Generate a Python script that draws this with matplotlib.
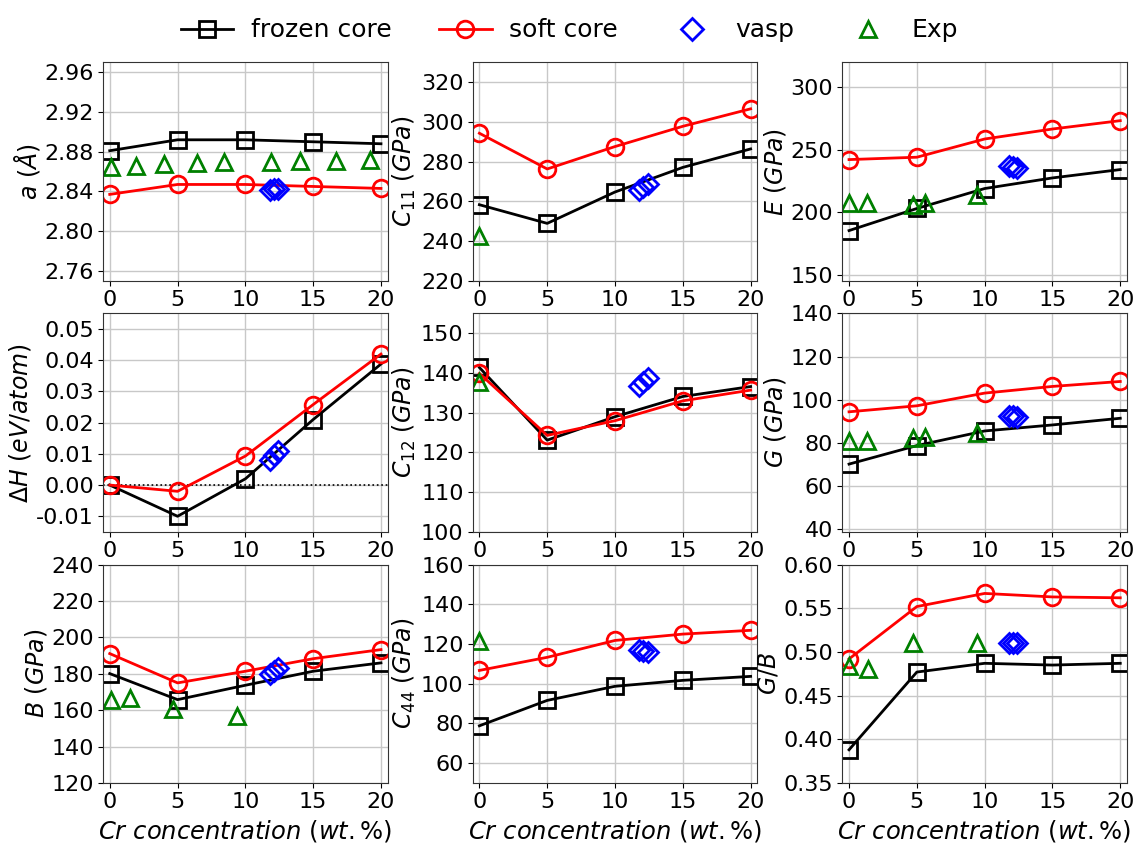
import matplotlib
matplotlib.use("Agg")
import matplotlib.pyplot as plt
from matplotlib.lines import Line2D

# Cr concentration (wt.%)
cr = [0, 5, 10, 15, 20]
vasp_x = [11.8, 12.1, 12.4]

# lattice parameter a
a_frozen = [2.881, 2.892, 2.892, 2.890, 2.888]
a_soft = [2.837, 2.847, 2.847, 2.845, 2.843]
a_vasp = [2.841, 2.842, 2.842]
a_exp_x = [0.1, 1.95, 4.0, 6.45, 8.4, 11.9, 14.0, 16.7, 19.2]
a_exp = [2.865, 2.866, 2.868, 2.869, 2.870, 2.870, 2.871, 2.871, 2.872]

# C11
c11_frozen = [258.3, 248.9, 264.7, 277.1, 286.4]
c11_soft = [294.3, 276.3, 287.6, 297.8, 306.6]
c11_vasp = [265.5, 267.0, 268.5]
c11_exp_x = [0]
c11_exp = [242.7]

# Young's modulus E
e_frozen = [185.2, 202.9, 218.9, 227.4, 234.1]
e_soft = [242.1, 244.0, 258.6, 266.6, 273.3]
e_vasp = [237.0, 236.0, 235.0]
e_exp_x = [0, 1.3, 4.7, 5.6, 9.4]
e_exp = [207.5, 207.5, 206.0, 207.5, 214.0]

# formation enthalpy
dh_frozen = [0.0, -0.010, 0.002, 0.021, 0.0388]
dh_soft = [0.0, -0.002, 0.0093, 0.0258, 0.042]
dh_vasp = [0.008, 0.0095, 0.011]

# C12
c12_frozen = [141.4, 123.1, 129.0, 134.1, 136.6]
c12_soft = [139.9, 124.3, 128.0, 133.0, 135.7]
c12_vasp = [136.8, 137.8, 138.8]
c12_exp_x = [0]
c12_exp = [137.8]

# shear modulus G
g_frozen = [70.0, 78.6, 85.4, 88.2, 91.3]
g_soft = [94.3, 97.1, 103.0, 106.1, 108.4]
g_vasp = [92.5, 92.2, 91.8]
g_exp_x = [0, 1.3, 4.7, 5.6, 9.4]
g_exp = [80.9, 80.9, 82.3, 82.7, 84.3]

# bulk modulus B
b_frozen = [180.1, 165.8, 173.7, 181.4, 186.0]
b_soft = [191.1, 175.0, 181.4, 188.3, 193.3]
b_vasp = [180.0, 181.5, 183.0]
b_exp_x = [0.1, 1.5, 4.7, 9.4]
b_exp = [165.4, 166.7, 160.8, 156.6]

# C44
c44_frozen = [78.8, 91.6, 98.7, 101.7, 103.7]
c44_soft = [106.7, 113.3, 121.8, 125.0, 126.9]
c44_vasp = [117.0, 116.5, 116.0]
c44_exp_x = [0]
c44_exp = [121.7]

# Pugh ratio G/B
gb_frozen = [0.388, 0.477, 0.487, 0.485, 0.487]
gb_soft = [0.492, 0.552, 0.567, 0.563, 0.562]
gb_vasp = [0.510, 0.510, 0.510]
gb_exp_x = [0, 1.4, 4.7, 9.4]
gb_exp = [0.484, 0.480, 0.510, 0.510]

panels = [
    (r"$a\ (\AA)$", a_frozen, a_soft, a_vasp, a_exp_x, a_exp, (2.75, 2.97), [2.76, 2.80, 2.84, 2.88, 2.92, 2.96], "{:.2f}"),
    (r"$C_{11}\ (GPa)$", c11_frozen, c11_soft, c11_vasp, c11_exp_x, c11_exp, (220, 330), [220, 240, 260, 280, 300, 320], "{:.0f}"),
    (r"$E\ (GPa)$", e_frozen, e_soft, e_vasp, e_exp_x, e_exp, (145, 320), [150, 200, 250, 300], "{:.0f}"),
    (r"$\Delta H\ (eV/atom)$", dh_frozen, dh_soft, dh_vasp, [], [], (-0.015, 0.055), [-0.01, 0.0, 0.01, 0.02, 0.03, 0.04, 0.05], "{:.2f}"),
    (r"$C_{12}\ (GPa)$", c12_frozen, c12_soft, c12_vasp, c12_exp_x, c12_exp, (100, 155), [100, 110, 120, 130, 140, 150], "{:.0f}"),
    (r"$G\ (GPa)$", g_frozen, g_soft, g_vasp, g_exp_x, g_exp, (38.5, 140), [40, 60, 80, 100, 120, 140], "{:.0f}"),
    (r"$B\ (GPa)$", b_frozen, b_soft, b_vasp, b_exp_x, b_exp, (120, 240), [120, 140, 160, 180, 200, 220, 240], "{:.0f}"),
    (r"$C_{44}\ (GPa)$", c44_frozen, c44_soft, c44_vasp, c44_exp_x, c44_exp, (50, 160), [60, 80, 100, 120, 140, 160], "{:.0f}"),
    (r"$G/B$", gb_frozen, gb_soft, gb_vasp, gb_exp_x, gb_exp, (0.35, 0.60), [0.35, 0.40, 0.45, 0.50, 0.55, 0.60], "{:.2f}"),
]

fig, axes = plt.subplots(3, 3, figsize=(11.39, 8.43), dpi=100)
plt.subplots_adjust(left=0.0904, right=0.9895, top=0.926, bottom=0.0712,
                    wspace=0.298, hspace=0.15)

for ax, (label, fr, so, va, ex_x, ex, ylim, yticks, fmt) in zip(axes.flat, panels):
    ax.grid(True, color="#c8c8c8", linewidth=1)
    ax.set_axisbelow(True)
    for sp in ax.spines.values():
        sp.set_color("#333333")
    if label.startswith(r"$\Delta"):
        ax.axhline(0, color="black", linestyle=":", linewidth=1.2)
    ax.plot(cr, fr, "-s", color="black", mfc="none", ms=11, mew=2, lw=2)
    ax.plot(cr, so, "-o", color="red", mfc="none", ms=12, mew=2, lw=2)
    ax.plot(vasp_x, va, "D", color="blue", mfc="none", ms=10, mew=2, ls="none")
    if ex_x:
        ax.plot(ex_x, ex, "^", color="green", mfc="none", ms=11, mew=2, ls="none")
    ax.set_xlim(-0.5, 20.5)
    ax.set_ylim(*ylim)
    ax.set_xticks([0, 5, 10, 15, 20])
    ax.set_yticks(yticks)
    ax.set_yticklabels([fmt.format(t) for t in yticks])
    ax.tick_params(labelsize=16, pad=3)
    ax.set_ylabel(label, fontsize=17, labelpad=2)

for ax in axes[2]:
    ax.set_xlabel(r"$Cr\ concentration\ (wt.\%)$", fontsize=17.5, labelpad=4)

handles = [
    Line2D([], [], color="black", marker="s", mfc="none", ms=11, mew=2, lw=2),
    Line2D([], [], color="red", marker="o", mfc="none", ms=12, mew=2, lw=2),
    Line2D([], [], color="blue", marker="D", mfc="none", ms=11, mew=2, ls="none"),
    Line2D([], [], color="green", marker="^", mfc="none", ms=11, mew=2, ls="none"),
]
fig.legend(handles, ["frozen core", "soft core", "vasp", "Exp"], loc="upper center",
           bbox_to_anchor=(0.5, 1.005), ncol=4, frameon=False, fontsize=18,
           columnspacing=1.9, handlelength=2.1, handletextpad=0.7)

fig.savefig("out.png", dpi=100)
